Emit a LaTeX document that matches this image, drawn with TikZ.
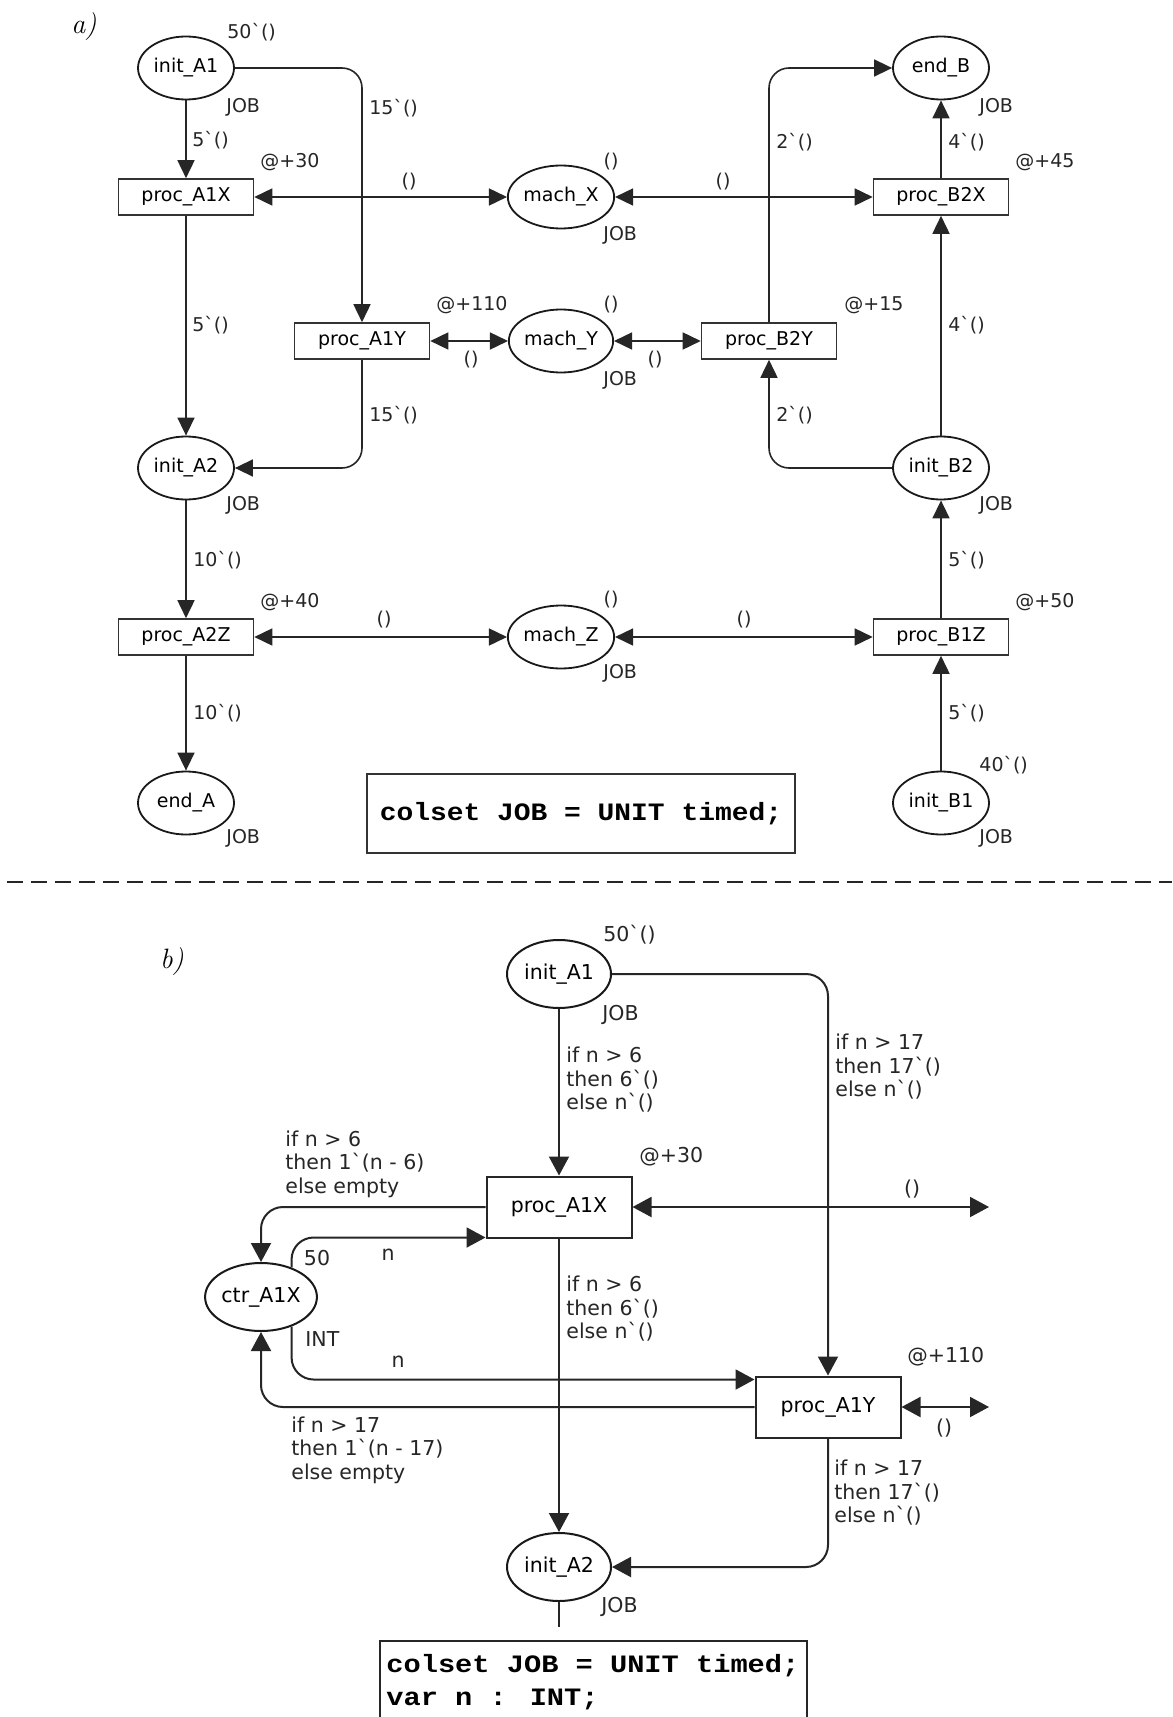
\documentclass[tikz,border=0pt]{standalone}
\usepackage{fontspec}
\newfontfamily\lab{DejaVu Sans}
\newfontfamily\code{Liberation Mono}
\usetikzlibrary{shapes.geometric,arrows.meta,calc}
\begin{document}
\begin{tikzpicture}[x=0.5pt,y=-0.5pt,
  lnA/.style={draw=black!85, line width=0.8pt},
  lnB/.style={draw=black!85, line width=1pt},
  fA/.style={font=\lab\fontsize{9.5}{11}\selectfont},
  fB/.style={font=\lab\fontsize{10.25}{11.75}\selectfont},
  placeA/.style={ellipse, draw=black!90, line width=0.9pt, minimum width=48pt, minimum height=31.5pt, inner sep=0pt, fA},
  transA/.style={rectangle, draw=black!80, line width=0.8pt, minimum width=67.5pt, minimum height=18pt, inner sep=0pt, fA},
  placeB/.style={ellipse, draw=black!90, line width=1pt, minimum width=52pt, minimum height=34pt, inner sep=0pt, fB},
  transB/.style={rectangle, draw=black!85, line width=1pt, minimum width=72.5pt, minimum height=30.5pt, inner sep=0pt, fB},
  lblA/.style={fA, inner sep=0pt, text=black!85},
  lblB/.style={fB, inner sep=0pt, text=black!85, align=left},
  arrA/.style={lnA, -{Triangle[length=9pt,width=8.5pt]}},
  darrA/.style={lnA, {Triangle[length=9pt,width=8.5pt]}-{Triangle[length=9pt,width=8.5pt]}},
  arrB/.style={lnB, -{Triangle[length=9.5pt,width=10pt]}},
  darrB/.style={lnB, {Triangle[length=9.5pt,width=10pt]}-{Triangle[length=9.5pt,width=10pt]}},
  rcA/.style={rounded corners=10pt},
  rcB/.style={rounded corners=11pt},
  partlab/.style={font=\itshape\fontsize{14}{16}\selectfont, inner sep=0pt},
  codef/.style={font=\code\bfseries\fontsize{12.5}{14}\selectfont, inner sep=0pt}
]
\useasboundingbox[fill=white] (0,0) rectangle (1172,1717);

% ---------------- part a ----------------
\node[partlab] (labA) at (84,27) {a)};

\node[placeA] (iA1) at (186,68) {init\_A1};
\node[transA] (pA1X) at (186,197) {proc\_A1X};
\node[placeA] (mX) at (561,197) {mach\_X};
\node[transA] (pB2X) at (941,197) {proc\_B2X};
\node[placeA] (eB) at (941,68) {end\_B};
\node[transA] (pA1Y) at (362,341) {proc\_A1Y};
\node[placeA] (mY) at (561,341) {mach\_Y};
\node[transA] (pB2Y) at (769,341) {proc\_B2Y};
\node[placeA] (iA2) at (186,468) {init\_A2};
\node[placeA] (iB2) at (941,468) {init\_B2};
\node[transA] (pA2Z) at (186,637) {proc\_A2Z};
\node[placeA] (mZ) at (561,637) {mach\_Z};
\node[transA] (pB1Z) at (941,637) {proc\_B1Z};
\node[placeA] (eA) at (186,803) {end\_A};
\node[placeA] (iB1) at (941,803) {init\_B1};

\draw[arrA] (iA1) -- (pA1X);
\draw[arrA, rcA] (iA1.east) -| (pA1Y.north);
\draw[darrA] (pA1X) -- (mX);
\draw[arrA] (pA1X) -- (iA2);
\draw[darrA] (pA1Y) -- (mY);
\draw[arrA, rcA] (pA1Y.south) |- (iA2.east);
\draw[darrA] (mX) -- (pB2X);
\draw[darrA] (mY) -- (pB2Y);
\draw[arrA, rcA] (pB2Y.north) |- (eB.west);
\draw[arrA] (pB2X) -- (eB);
\draw[arrA] (iB2) -- (pB2X);
\draw[arrA, rcA] (iB2.west) -| (pB2Y.south);
\draw[arrA] (iA2) -- (pA2Z);
\draw[darrA] (pA2Z) -- (mZ);
\draw[darrA] (mZ) -- (pB1Z);
\draw[arrA] (pA2Z) -- (eA);
\draw[arrA] (iB1) -- (pB1Z);
\draw[arrA] (pB1Z) -- (iB2);

% labels a
\node[lblA, anchor=west] (l1) at (227,32) {50`()};
\node[lblA, anchor=west] (l2) at (226,107) {JOB};
\node[lblA, anchor=west] (l3) at (192,140) {5`()};
\node[lblA, anchor=west] (l4) at (260,162) {@+30};
\node[lblA] (l5) at (409,182) {()};
\node[lblA, anchor=west] (l6) at (369,108) {15`()};
\node[lblA, anchor=west] (l7) at (192,325) {5`()};
\node[lblA, anchor=west] (l8) at (436,305) {@+110};
\node[lblA] (l9) at (471,360) {()};
\node[lblA, anchor=west] (l10) at (369,415) {15`()};
\node[lblA] (l11) at (611,162) {()};
\node[lblA, anchor=west] (l12) at (603,235) {JOB};
\node[lblA] (l13) at (723,182) {()};
\node[lblA, anchor=west] (l14) at (776,142) {2`()};
\node[lblA, anchor=west] (l15) at (948,142) {4`()};
\node[lblA, anchor=west] (l16) at (1015,162) {@+45};
\node[lblA, anchor=west] (l17) at (979,107) {JOB};
\node[lblA] (l18) at (611,305) {()};
\node[lblA, anchor=west] (l19) at (603,380) {JOB};
\node[lblA] (l20) at (655,360) {()};
\node[lblA, anchor=west] (l21) at (844,305) {@+15};
\node[lblA, anchor=west] (l22) at (776,415) {2`()};
\node[lblA, anchor=west] (l23) at (948,325) {4`()};
\node[lblA, anchor=west] (l24) at (226,505) {JOB};
\node[lblA, anchor=west] (l25) at (979,505) {JOB};
\node[lblA, anchor=west] (l26) at (193,560) {10`()};
\node[lblA, anchor=west] (l27) at (948,560) {5`()};
\node[lblA, anchor=west] (l28) at (260,602) {@+40};
\node[lblA, anchor=west] (l29) at (1015,602) {@+50};
\node[lblA] (l30) at (384,620) {()};
\node[lblA] (l31) at (611,600) {()};
\node[lblA] (l32) at (744,620) {()};
\node[lblA, anchor=west] (l33) at (603,673) {JOB};
\node[lblA, anchor=west] (l34) at (193,713) {10`()};
\node[lblA, anchor=west] (l35) at (948,713) {5`()};
\node[lblA, anchor=west] (l36) at (979,765) {40`()};
\node[lblA, anchor=west] (l37) at (226,838) {JOB};
\node[lblA, anchor=west] (l38) at (979,838) {JOB};

\node[draw=black!80, line width=0.8pt, minimum width=214pt, minimum height=39.5pt, codef] (declA) at (581,813.5) {\scalebox{1.117}[1]{colset JOB = UNIT timed;}};

% separator
\draw[black!85, line width=1.2pt, dash pattern=on 8pt off 4pt] (7,882) -- (1172,882);

% ---------------- part b ----------------
\node[partlab] (labB) at (172,962) {b)};

\node[placeB] (biA1) at (559,974) {init\_A1};
\node[transB] (bpX) at (559,1207) {proc\_A1X};
\node[placeB] (ctr) at (261,1297) {ctr\_A1X};
\node[transB] (bpY) at (828,1407) {proc\_A1Y};
\node[placeB] (biA2) at (559,1567) {init\_A2};
\coordinate (fX) at (989,1207);
\coordinate (fY) at (989,1407);
\coordinate (fA2) at (559,1627);

\draw[arrB] (biA1) -- (bpX);
\draw[arrB, rcB] (biA1.east) -| (bpY.north);
\draw[darrB] (bpX.east) -- (fX);
\draw[arrB, rcB] (bpX.west) -| (ctr.north);
\draw[arrB, rcB] (ctr.44) |- ($(bpX.south west)+(0,-1)$);
\draw[arrB, rcB] (ctr.-44) |- ($(bpY.north west)+(0,4)$);
\draw[arrB, rcB] (bpY.west) -| (ctr.south);
\draw[arrB] (bpX) -- (biA2);
\draw[arrB, rcB] (bpY.south) |- (biA2.east);
\draw[darrB] (bpY.east) -- (fY);
\draw[lnB] (biA2) -- (fA2);

% labels b
\node[lblB, anchor=west] (m1) at (603,935) {50`()};
\node[lblB, anchor=west] (m2) at (602,1015) {JOB};
\node[lblB, anchor=west] (m3) at (566,1080) {if n > 6\\then 6`()\\else n`()};
\node[lblB, anchor=west] (m4) at (835,1067) {if n > 17\\then 17`()\\else n`()};
\node[lblB, anchor=west] (m5) at (639,1157) {@+30};
\node[lblB] (m6) at (912,1189) {()};
\node[lblB, anchor=west] (m7) at (285,1164) {if n > 6\\then 1`(n - 6)\\else empty};
\node[lblB] (m8) at (317,1258) {50};
\node[lblB] (m9) at (388,1255) {n};
\node[lblB, anchor=west] (m10) at (566,1309) {if n > 6\\then 6`()\\else n`()};
\node[lblB, anchor=west] (m11) at (305,1339) {INT};
\node[lblB] (m12) at (398,1362) {n};
\node[lblB, anchor=west] (m13) at (907,1357) {@+110};
\node[lblB] (m14) at (944,1428) {()};
\node[lblB, anchor=west] (m15) at (291,1450) {if n > 17\\then 1`(n - 17)\\else empty};
\node[lblB, anchor=west] (m16) at (834,1493) {if n > 17\\then 17`()\\else n`()};
\node[lblB, anchor=west] (m17) at (601,1607) {JOB};

\draw[draw=black!85, line width=0.8pt] (380,1720) |- (807,1641) -- (807,1720);
\node[codef, anchor=base west] (declB1) at (386,1672) {\scalebox{1.147}[1]{colset JOB = UNIT timed;}};
\node[codef, anchor=base west] (declB2) at (386,1705) {\scalebox{1.147}[1]{var n : INT;}};
\end{tikzpicture}
\end{document}
